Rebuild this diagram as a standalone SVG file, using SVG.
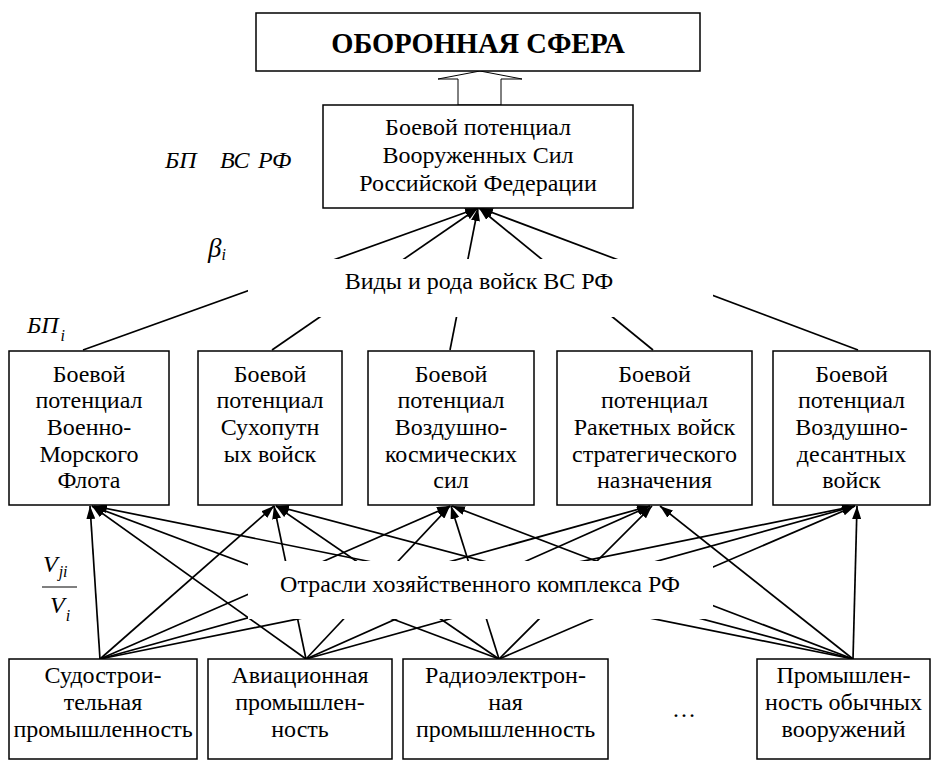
<svg xmlns="http://www.w3.org/2000/svg" width="936" height="762" viewBox="0 0 936 762" font-family="Liberation Serif, Tinos, Noto Serif, DejaVu Serif, Times New Roman, Times, serif">
<style>
.box{fill:#fff;stroke:#000;stroke-width:1.5}
.t{font-size:24px;fill:#000;text-anchor:middle}
.it{font-style:italic;font-size:24px;fill:#000}
.sub{font-size:16px}
.c{stroke:#000;stroke-width:1.7;fill:none;marker-end:url(#ah)}
.mask{fill:#fff;stroke:none}
</style>
<defs>
<marker id="ah" markerUnits="userSpaceOnUse" markerWidth="13" markerHeight="9" refX="13" refY="4.5" orient="auto">
<path d="M0,0 L13,4.5 L0,9 z" fill="#000"/>
</marker>
</defs>
<rect width="936" height="762" fill="#fff"/>

<g id="connectors">
<line class="c" x1="83" y1="350" x2="478" y2="208"/>
<line class="c" x1="272" y1="350" x2="478" y2="208"/>
<line class="c" x1="450" y1="350" x2="478" y2="208"/>
<line class="c" x1="653" y1="350" x2="479" y2="208"/>
<line class="c" x1="858" y1="350" x2="480" y2="208"/>
<line class="c" x1="100" y1="659" x2="90" y2="506"/>
<line class="c" x1="100" y1="659" x2="274" y2="506"/>
<line class="c" x1="100" y1="659" x2="450" y2="506"/>
<line class="c" x1="100" y1="659" x2="650" y2="506"/>
<line class="c" x1="100" y1="659" x2="855" y2="506"/>
<line class="c" x1="306" y1="659" x2="92" y2="506"/>
<line class="c" x1="306" y1="659" x2="274" y2="506"/>
<line class="c" x1="306" y1="659" x2="450" y2="506"/>
<line class="c" x1="306" y1="659" x2="650" y2="506"/>
<line class="c" x1="306" y1="659" x2="855" y2="506"/>
<line class="c" x1="499" y1="659" x2="92" y2="506"/>
<line class="c" x1="499" y1="659" x2="276" y2="506"/>
<line class="c" x1="499" y1="659" x2="451" y2="506"/>
<line class="c" x1="499" y1="659" x2="652" y2="506"/>
<line class="c" x1="499" y1="659" x2="855" y2="506"/>
<line class="c" x1="853" y1="659" x2="94" y2="506"/>
<line class="c" x1="853" y1="659" x2="276" y2="506"/>
<line class="c" x1="853" y1="659" x2="452" y2="506"/>
<line class="c" x1="853" y1="659" x2="660" y2="506"/>
<line class="c" x1="853" y1="659" x2="857" y2="506"/>
<polygon points="458,105 458,79 438,79 480,71 522,79 501,79 501,105" fill="#fff" stroke="#000" stroke-width="1"/>
</g>

<g id="defence">
<rect class="box" x="256" y="13" width="444" height="58"/>
<text class="t" x="478" y="53" font-weight="bold" style="font-size:28.5px">ОБОРОННАЯ СФЕРА</text>
</g>

<g id="armed-forces">
<rect class="box" x="323" y="105" width="310" height="103"/>
<text class="t" x="478" y="135">Боевой потенциал</text>
<text class="t" x="478" y="163">Вооруженных Сил</text>
<text class="t" x="478" y="191">Российской Федерации</text>
</g>

<g id="label-branches">
<rect class="mask" x="248" y="259" width="465" height="58"/>
<text class="t" x="479" y="289">Виды и рода войск ВС РФ</text>
</g>

<g id="label-industry">
<rect class="mask" x="248" y="561" width="465" height="58"/>
<text class="t" x="480" y="592">Отрасли хозяйственного комплекса РФ</text>
</g>

<g id="navy">
<rect class="box" x="9" y="351" width="160" height="154"/>
<text class="t" x="89" y="382">Боевой</text>
<text class="t" x="89" y="408">потенциал</text>
<text class="t" x="89" y="435">Военно-</text>
<text class="t" x="89" y="462">Морского</text>
<text class="t" x="89" y="488">Флота</text>
</g>

<g id="ground">
<rect class="box" x="198" y="351" width="144" height="154"/>
<text class="t" x="270" y="382">Боевой</text>
<text class="t" x="270" y="408">потенциал</text>
<text class="t" x="270" y="435">Сухопутн</text>
<text class="t" x="270" y="462">ых войск</text>
</g>

<g id="aerospace">
<rect class="box" x="368" y="351" width="166" height="154"/>
<text class="t" x="451" y="382">Боевой</text>
<text class="t" x="451" y="408">потенциал</text>
<text class="t" x="451" y="435">Воздушно-</text>
<text class="t" x="451" y="462">космических</text>
<text class="t" x="451" y="488">сил</text>
</g>

<g id="strategic">
<rect class="box" x="557" y="351" width="195" height="154"/>
<text class="t" x="654.5" y="382">Боевой</text>
<text class="t" x="654.5" y="408">потенциал</text>
<text class="t" x="654.5" y="435">Ракетных войск</text>
<text class="t" x="654.5" y="462">стратегического</text>
<text class="t" x="654.5" y="488">назначения</text>
</g>

<g id="airborne">
<rect class="box" x="773" y="351" width="157" height="154"/>
<text class="t" x="851.5" y="382">Боевой</text>
<text class="t" x="851.5" y="408">потенциал</text>
<text class="t" x="851.5" y="435">Воздушно-</text>
<text class="t" x="851.5" y="462">десантных</text>
<text class="t" x="851.5" y="488">войск</text>
</g>

<g id="shipbuilding">
<rect class="box" x="9" y="659" width="188" height="100"/>
<text class="t" x="103" y="683">Судострои-</text>
<text class="t" x="103" y="710">тельная</text>
<text class="t" x="103" y="737">промышленность</text>
</g>

<g id="aviation">
<rect class="box" x="208" y="659" width="184" height="100"/>
<text class="t" x="300" y="683">Авиационная</text>
<text class="t" x="300" y="710">промышлен-</text>
<text class="t" x="300" y="737">ность</text>
</g>

<g id="radio">
<rect class="box" x="403" y="659" width="205" height="100"/>
<text class="t" x="505.5" y="683">Радиоэлектрон-</text>
<text class="t" x="505.5" y="710">ная</text>
<text class="t" x="505.5" y="737">промышленность</text>
</g>

<g id="ellipsis">
<text class="t" x="684" y="717">…</text>
</g>

<g id="weapons">
<rect class="box" x="757" y="659" width="173" height="100"/>
<text class="t" x="843.5" y="683">Промышлен-</text>
<text class="t" x="843.5" y="710">ность обычных</text>
<text class="t" x="843.5" y="737">вооружений</text>
</g>

<g id="labels">
<text class="it" y="168"><tspan x="165">БП</tspan><tspan x="220">ВС</tspan><tspan x="258">РФ</tspan></text>
<text class="it" x="208" y="257" style="font-size:27px">β<tspan class="sub" dy="3">i</tspan></text>
<text class="it" x="27" y="333">БП<tspan class="sub" dy="8" dx="2">i</tspan></text>
<text class="it" x="43" y="572">V<tspan class="sub" dy="5" dx="1">ji</tspan></text>
<line x1="42" y1="587" x2="77" y2="587" stroke="#000" stroke-width="1"/>
<text class="it" x="50" y="613">V<tspan class="sub" dy="8" dx="1">i</tspan></text>
</g>
</svg>
